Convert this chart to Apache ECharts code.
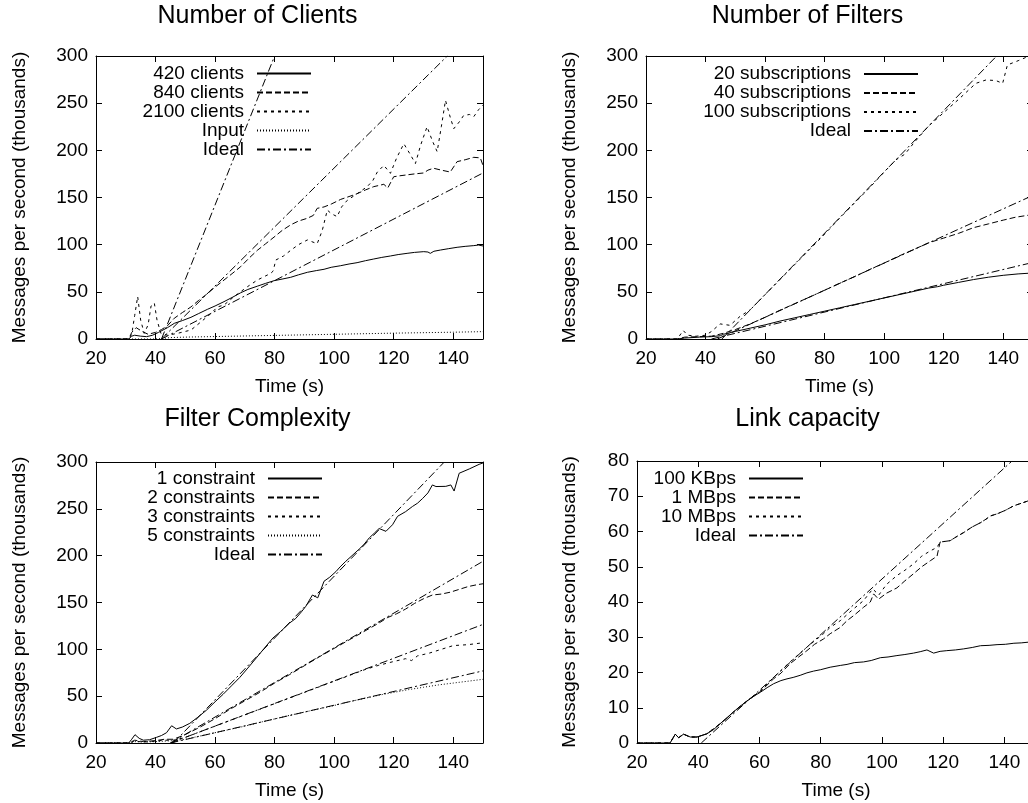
<!DOCTYPE html>
<html>
<head>
<meta charset="utf-8">
<script src="https://cdn.jsdelivr.net/npm/echarts@6/dist/echarts.min.js"></script>
<style>
html,body{margin:0;padding:0;background:#fff;}
#chart{width:1028px;height:803px;}
</style>
</head>
<body>
<div id="chart"></div>
<script>
// ---------- data (time s, thousand messages per second) ----------
const clients420 = [[20,0],[31,0],[32,3],[33,4],[35,3],[37,2.5],[39,4],[41,7],[44,12],[46.3,16.6],[49,19.5],[51.9,23],[54.5,27],[57.4,31.4],[60,35],[63,39.6],[66,44.5],[68.6,49],[71,52.5],[74.2,56],[77,59],[79.8,61.8],[82.5,63.5],[85.4,65.4],[88,68],[91,70.7],[94,72.5],[96.6,73.9],[99,76],[102.2,77.7],[105,79.5],[107.7,80.9],[110.5,83],[113.3,84.8],[116,86.5],[118.9,88],[121.5,89.5],[124.5,90.8],[127,91.8],[130.1,92.6],[131.5,92.2],[132.3,90.8],[133.5,93],[135.7,94.3],[138.5,95.8],[141.3,97.2],[144,98.2],[146.9,99],[148.5,99.6],[150,98.6]];
const clients840 = [[20,0],[31,0],[32,7],[33.5,12],[35.5,8],[37.5,5],[40,7],[42,10],[44,14],[46.3,22],[49,28],[51.9,34],[54.5,41],[57.4,48],[60,55],[63,62.5],[66,70],[68.6,76.7],[71.5,86],[74.2,94],[77,101],[79.8,108],[82.5,115],[85.4,121],[88,125],[91,128],[93,131],[94.3,138.5],[96.6,140],[99,143],[102.2,148],[105,151],[107.7,154],[110.5,158],[113.3,161.5],[116.7,164],[118,160],[120,172],[122,173],[124.5,174],[127,175],[130.1,176],[131.5,179],[133.4,181],[136,179],[139,177],[141.3,188],[144,190],[146.9,192.6],[149.1,192],[150,184]];
const clients2100 = [[20,0],[31,0],[32,5],[33,25],[34,45],[35,20],[36.2,6],[37.5,15],[38.5,35],[39.6,38],[40.5,20],[41.8,6],[44,4],[47.4,6],[51.9,9.5],[55.2,18],[58.6,27],[60.8,34],[63,36],[66.4,45],[70.9,55.5],[74.2,62.5],[78.7,69.6],[79.5,72],[80.4,83.7],[83,88],[85.4,94],[88,100],[91,105],[94.3,101],[96,115],[97.7,136.7],[99,133],[101,129.7],[102.5,140],[104.4,147],[107.7,154],[111.1,161.5],[113,168],[114.5,177],[116.7,184],[118.9,175.6],[121,192],[123.4,207],[125.5,196],[127.3,186],[129,205],[131.2,225],[133,210],[134.6,198.6],[136,225],[137.4,253],[139,235],[140.2,223],[142,230],[143.5,237],[145.5,238],[146.9,235.7],[148.5,243],[150,248]];
const clientsInput = [[20,0],[40,0],[42,0.5],[45,1.5],[50,2],[60,2.6],[80,3.8],[100,5],[120,6.2],[140,7.2],[150,7.8]];
const clientsIdeal = [[[42,0],[150,176]],[[42,0],[138,300]],[[42,0],[80,300]]];

const subs20 = [[20,0],[30.5,0],[33,1],[38,2],[42,2.5],[45,3.5],[46,5],[50,8],[55,11.5],[60,15],[65,19],[70,22.5],[75,26],[80,29.5],[85,33],[90,36.5],[95,40],[100,43.5],[105,47],[110,50.5],[115,54],[118,55.5],[120,57],[125,60],[130,63],[135,65.5],[140,67.5],[145,69],[150,70]];
const subs40 = [[20,0],[30.5,0],[33,2],[38,2.5],[42,3],[46,6],[50,10],[55,16],[60,23],[65,30.5],[70,37.5],[75,44.5],[80,51.7],[85,59],[90,66],[95,73.5],[100,80.5],[105,88],[110,95],[115,102],[118,105],[120,107],[125,112],[130,118],[135,122],[140,126],[144,129],[148,131],[150,132]];
const subs100 = [[20,0],[30.5,0],[32.5,9],[34,4],[37,3],[40,4],[42,8],[44.9,16],[48.2,14.5],[51.6,24],[55,31],[60,47],[65,63],[70,79],[75,95],[80,111],[85,128],[90,144],[95,160],[100,177],[104,190],[107,196],[110,208],[115,226],[120,240],[125,254],[130.8,271],[134.2,274.6],[137.5,274],[139.8,271],[141.4,290.5],[145,295],[148,299],[150,301]];
const subsIdeal = [[[42,0],[148.4,80]],[[44,0],[148.4,150]],[[45.5,0],[137.8,300]]];

const con1 = [[20,0],[31,0],[32,4],[33.1,8.9],[34.5,5],[35.9,3],[38,3.5],[40.3,6],[42,8],[43.7,11],[45.4,18.4],[47,15],[49,17],[51.5,21],[54,27],[57.1,35],[60,44],[62.7,52],[65.5,61],[68.3,70],[71,80],[73.9,91],[76.5,101],[79.4,112],[82,119],[85,128],[87.1,133],[89,140],[90.5,146],[92.7,158],[94.5,155],[96.6,172.7],[98.5,177],[100.6,183],[102,188],[103.9,194],[106,200],[108.4,207],[110,212],[111.8,219],[113.5,224],[115.1,229],[117.4,226],[119.6,233],[121.3,242],[124,247],[126.3,252.5],[128,256],[129.7,261],[131.5,267],[133,275.5],[134.2,273.8],[137.5,274],[139.2,275.5],[140.3,269],[142,288],[145.4,292.6],[148.7,297.5],[150,299]];
const con2 = [[20,0],[31,0],[33,3],[36,1.5],[40,2.5],[43,4],[46,4],[50,9],[55,17],[60,26],[65,36],[70,45],[75,54],[80,64],[85,73],[90,82.5],[95,92],[100,101],[105,110],[110,119],[115,128],[118,134],[121,138],[124,143],[127,149],[130,154],[133,158],[136,159],[139,161],[142,164],[145,167],[148,169],[150,170]];
const con3 = [[20,0],[31,0],[33,2],[36,1],[40,2],[43,3],[46,3],[50,6],[55,12],[60,18],[65,24],[70,30],[75,36],[80,42],[85,48],[90,54],[95,60],[100,66],[105,72],[110,78],[115,83],[120,87],[124,90],[126,88],[128,93],[132,96],[136,100],[140,104],[145,105],[150,107]];
const con5 = [[20,0],[31,0],[33,1.5],[36,1],[40,1.5],[43,2],[46,2.5],[50,4],[55,7.5],[60,11],[65,14.5],[70,18],[75,22],[80,25.7],[85,29.5],[90,33],[95,36.5],[100,40],[105,44],[110,47.5],[115,51],[120,54],[125,57],[130,59.5],[135,62],[140,64],[145,66],[150,68]];
const conIdeal = [[[46,0],[137,300]],[[45,0],[150,194]],[[45,0],[150,126.6]],[[45,0],[150,77]]];

const link100K = [[20,0],[30.8,0],[32.5,2.5],[33.6,1.5],[35.2,2.5],[37.4,1.7],[39.6,1.7],[42.8,2.6],[45,3.8],[47.2,5.5],[49.5,7.2],[51.5,8.8],[53.5,10.3],[55.9,11.9],[58,13.2],[60.3,14.4],[62.5,15.7],[64.6,16.8],[67,17.7],[69,18.2],[71,18.6],[73.3,19.2],[75.5,19.9],[77.7,20.4],[80,20.8],[83.1,21.5],[86.4,22],[88.6,22.3],[91,22.8],[94,23],[96.5,23.4],[99.5,24.2],[102,24.4],[104.9,24.8],[107.5,25.1],[110.3,25.5],[112.5,25.9],[114.7,26.4],[116.9,25.5],[119,26],[121.2,26.2],[124,26.4],[126.7,26.7],[129.5,27.1],[132.2,27.6],[135,27.7],[137.6,27.9],[140.3,28],[143.1,28.3],[145.5,28.4],[147.8,28.6],[150,28.7]];
const link1M = [[20,0],[30.8,0],[32.5,2.5],[33.6,1.5],[35.2,2.5],[37.4,1.7],[39.6,1.7],[42.8,2.6],[47.2,5.5],[51.5,8.8],[55.9,11.9],[60.3,14.6],[64.6,18.2],[67,19.8],[70,22.5],[72.5,24.2],[75.5,26.2],[78,28],[80.9,29.5],[83.1,31],[86.4,32.8],[88.6,34.7],[91,36.3],[94,38.5],[96.2,40],[97.3,42.3],[98.9,40.8],[101.5,42.5],[104.9,44],[107.5,46],[110.3,48],[113,50],[115.8,51.7],[118,53],[119,57],[122.3,57.4],[124.5,58.6],[126.7,59.7],[129.5,61.3],[132.2,62.5],[134,63.5],[135.4,64.4],[137.6,65],[140.3,66],[143.1,67.3],[145.5,68],[147.8,68.7],[150,70]];
const link10M = [[20,0],[30.8,0],[32.5,2.5],[33.6,1.5],[35.2,2.5],[37.4,1.7],[39.6,1.7],[42.8,2.6],[47.2,5.5],[51.5,8.8],[55.9,11.9],[60.3,14.8],[64.6,18.6],[70,23],[75.5,27.2],[80.9,31],[83.1,32.8],[86.4,34.7],[90,37.5],[94,40.4],[97,43.7],[99,42],[101.5,45],[104.9,47.5],[107.5,49],[110.3,50.8],[113,53],[115.8,54.5],[118,55.5],[119,57],[122.3,57.4],[124.5,58.6],[126.7,59.7],[129.5,61.3],[132.2,62.5],[134,63.5],[135.4,64.4],[137.6,65],[140.3,66],[143.1,67.3],[145.5,68],[147.8,68.7],[150,70]];
const linkIdeal = [[[41,0],[142.5,80]]];

const xTicks = {min: 20, max: 150, interval: 20};
const yTicksMsgs = {min: 0, max: 300, interval: 50};
const yTicksLink = {min: 0, max: 80, interval: 10};

const panelTitles = ['Number of Clients', 'Number of Filters', 'Filter Complexity', 'Link capacity'];
const xName = 'Time (s)';
const yName = 'Messages per second (thousands)';

// ---------- styles ----------
const FONT = 'Liberation Sans, Arial, Helvetica, sans-serif';
const SOLID = 'solid', DASH = [6, 3], SHORT = [3, 4], DOT = [1, 2], DASHDOT = [8, 3, 2, 3];

const grids = [
  {left: 96, top: 56, width: 387, height: 283},
  {left: 646, top: 56, width: 387, height: 283},
  {left: 96, top: 462, width: 387, height: 281},
  {left: 637, top: 461, width: 398, height: 282}
];
const yNameGaps = [67, 67, 67, 58];
const yScales = [yTicksMsgs, yTicksMsgs, yTicksMsgs, yTicksLink];

const xAxes = [], yAxes = [];
grids.forEach((g, i) => {
  const common = {gridIndex: i, type: 'value', min: xTicks.min, max: xTicks.max, interval: xTicks.interval,
    splitLine: {show: false}, axisLine: {show: true, onZero: false, lineStyle: {color: '#000', width: 1}},
    axisTick: {show: true, inside: true, length: 6, lineStyle: {color: '#000'}}};
  xAxes.push(Object.assign({}, common, {position: 'bottom',
    axisLabel: {color: '#000', fontFamily: FONT, fontSize: 19, margin: 10, showMaxLabel: false},
    name: xName, nameLocation: 'middle', nameGap: 38, nameMoveOverlap: false,
    nameTextStyle: {color: '#000', fontFamily: FONT, fontSize: 19}}));
  xAxes.push(Object.assign({}, common, {position: 'top', axisLabel: {show: false}}));
  const ys = yScales[i];
  const ycommon = {gridIndex: i, type: 'value', min: ys.min, max: ys.max, interval: ys.interval,
    splitLine: {show: false}, axisLine: {show: true, onZero: false, lineStyle: {color: '#000', width: 1}},
    axisTick: {show: true, inside: true, length: 6, lineStyle: {color: '#000'}}};
  yAxes.push(Object.assign({}, ycommon, {position: 'left',
    axisLabel: {color: '#000', fontFamily: FONT, fontSize: 19, margin: 8},
    name: yName, nameLocation: 'middle', nameGap: yNameGaps[i], nameMoveOverlap: false,
    nameTextStyle: {color: '#000', fontFamily: FONT, fontSize: 19}}));
  yAxes.push(Object.assign({}, ycommon, {position: 'right', axisLabel: {show: false}}));
});

const series = [];
function addLine(name, data, gi, type) {
  series.push({
    name: name, type: 'line', data: data,
    xAxisIndex: gi * 2, yAxisIndex: gi * 2,
    symbol: 'none', showSymbol: false, clip: true, silent: true,
    lineStyle: {color: '#000', width: 1, type: type},
    itemStyle: {color: '#000'},
    emphasis: {disabled: true}
  });
}
addLine('420 clients', clients420, 0, SOLID);
addLine('840 clients', clients840, 0, DASH);
addLine('2100 clients', clients2100, 0, SHORT);
addLine('Input', clientsInput, 0, DOT);
clientsIdeal.forEach(d => addLine('Ideal', d, 0, DASHDOT));

addLine('20 subscriptions', subs20, 1, SOLID);
addLine('40 subscriptions', subs40, 1, DASH);
addLine('100 subscriptions', subs100, 1, SHORT);
subsIdeal.forEach(d => addLine('Ideal', d, 1, DASHDOT));

addLine('1 constraint', con1, 2, SOLID);
addLine('2 constraints', con2, 2, DASH);
addLine('3 constraints', con3, 2, SHORT);
addLine('5 constraints', con5, 2, DOT);
conIdeal.forEach(d => addLine('Ideal', d, 2, DASHDOT));

addLine('100 KBps', link100K, 3, SOLID);
addLine('1 MBps', link1M, 3, DASH);
addLine('10 MBps', link10M, 3, SHORT);
linkIdeal.forEach(d => addLine('Ideal', d, 3, DASHDOT));

function legend(names, right, top) {
  return {
    data: names, orient: 'vertical', align: 'right', right: right, top: top,
    padding: 0, itemGap: 0, itemWidth: 54, itemHeight: 19,
    selectedMode: false,
    itemStyle: {opacity: 0},
    textStyle: {color: '#000', fontFamily: FONT, fontSize: 19, padding: [0, 8, 0, 0]}
  };
}

const titleStyle = {color: '#000', fontFamily: FONT, fontSize: 25, fontWeight: 'normal'};

const option = {
  animation: false,
  backgroundColor: '#fff',
  title: [
    {text: panelTitles[0], left: 257.5, top: 4, textAlign: 'center', padding: 0, textStyle: titleStyle},
    {text: panelTitles[1], left: 807.5, top: 4, textAlign: 'center', padding: 0, textStyle: titleStyle},
    {text: panelTitles[2], left: 257.5, top: 407, textAlign: 'center', padding: 0, textStyle: titleStyle},
    {text: panelTitles[3], left: 807.5, top: 407, textAlign: 'center', padding: 0, textStyle: titleStyle}
  ],
  legend: [
    legend(['420 clients', '840 clients', '2100 clients', 'Input', 'Ideal'], 1028 - 312, 64),
    legend(['20 subscriptions', '40 subscriptions', '100 subscriptions', 'Ideal'], 1028 - 919, 64.5),
    legend(['1 constraint', '2 constraints', '3 constraints', '5 constraints', 'Ideal'], 1028 - 323, 469),
    legend(['100 KBps', '1 MBps', '10 MBps', 'Ideal'], 1028 - 804, 469)
  ],
  grid: grids.map(g => Object.assign({show: false, containLabel: false, outerBoundsMode: 'none'}, g)),
  xAxis: xAxes,
  yAxis: yAxes,
  series: series
};

const chart = echarts.init(document.getElementById('chart'), null, {renderer: 'canvas'});
chart.setOption(option);
</script>
</body>
</html>
